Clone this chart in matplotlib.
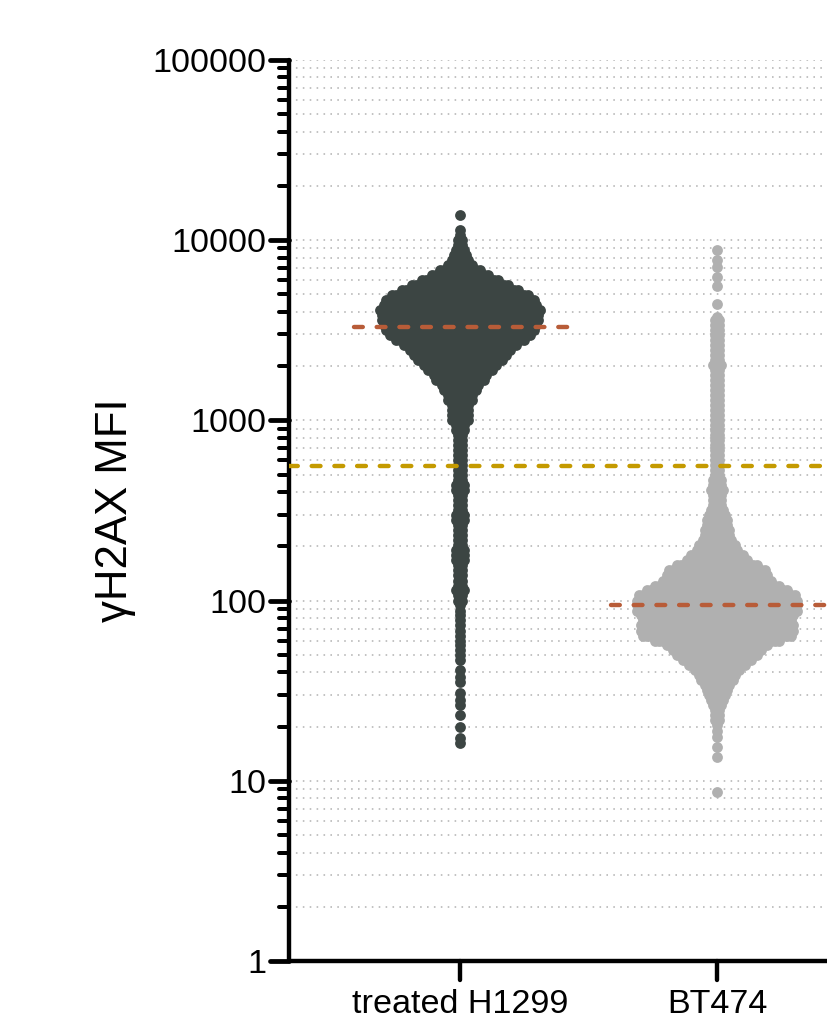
import matplotlib
matplotlib.use("Agg")
import matplotlib.pyplot as plt
from matplotlib.markers import MarkerStyle, TICKLEFT, TICKDOWN
from matplotlib.ticker import LogLocator, NullFormatter, FixedFormatter, FixedLocator
import numpy as np

plt.rcParams['font.family'] = ['Liberation Sans', 'DejaVu Sans']
plt.rcParams['lines.scale_dashes'] = False

categories = ["treated H1299", "BT474"]
y_ticks = [1, 10, 100, 1000, 10000, 100000]
y_tick_labels = ["1", "10", "100", "1000", "10000", "100000"]
threshold = 560
medians = [3300, 95]

h1299_mfi = [13800, 11400, 10690, 10030, 9410, 8830, 8280, 7770, 7290, 6840, 6410, 6020, 5640, 5290,
             4970, 4660, 4370, 4100, 3850, 3610, 3390, 3180, 2980, 2790, 2620, 2460, 2310, 2160,
             2030, 1900, 1790, 1670, 1570, 1470, 1380, 1300, 1220, 1140, 1070, 1000, 940, 880,
             825, 775, 727, 682, 640, 600, 563, 528, 495, 465, 436, 409, 384, 360, 338, 317, 297,
             279, 262, 245, 230, 216, 203, 190, 178, 167, 157, 147, 138, 129, 121, 114, 107, 100,
             94, 88, 83, 78, 73, 68, 64, 60, 57, 53, 50, 47, 41, 37.6, 35.4, 30.6, 28, 26.3, 23.2,
             19.9, 17.3, 16.2]
h1299_n = [1, 1, 1, 2, 2, 3, 4, 5, 7, 11, 15, 20, 25, 30,
           35, 38, 39, 41, 40, 40, 39, 38, 36, 33, 29, 26, 24, 22,
           19, 17, 14, 13, 10, 9, 7, 7, 5, 5, 5, 5, 3, 3,
           2, 2, 2, 2, 2, 2, 2, 2, 2, 2, 3, 3, 2, 2, 2, 2, 3,
           3, 2, 2, 2, 2, 2, 3, 3, 3, 2, 2, 2, 2, 2, 3, 2, 2,
           1, 1, 1, 1, 1, 1, 1, 1, 1, 1, 1, 1, 1, 1, 1, 1, 1, 1, 1,
           1, 1, 1]

bt474_mfi = [8830, 7770, 7140, 6210, 5540, 4440, 3750, 3610, 3390, 3180, 2980, 2790, 2620, 2460, 2310,
             2160, 2030, 1900, 1790, 1670, 1570, 1470, 1380, 1300, 1220, 1140, 1070, 1000, 940, 880,
             825, 775, 727, 682, 640, 600, 563, 528, 495, 465, 436, 409, 384, 360, 338, 317, 297,
             279, 262, 245, 230, 216, 203, 190, 178, 167, 157, 147, 138, 129, 121, 114, 107, 100,
             94, 88, 83, 78, 73, 68, 64, 60, 57, 53, 50, 46.9, 43.9, 41.2, 38.7, 36.3, 34, 31.9,
             29.9, 28, 26.3, 24.7, 23.2, 21.7, 20.4, 19, 17.5, 15.4, 13.6, 8.67]
bt474_n = [1, 1, 1, 1, 1, 1, 1, 2, 2, 2, 2, 2, 2, 2, 2,
           2, 3, 2, 2, 2, 2, 2, 2, 2, 2, 2, 2, 2, 2, 2,
           2, 2, 2, 2, 2, 2, 2, 2, 2, 3, 3, 4, 3, 3, 3, 4, 5,
           6, 6, 7, 7, 8, 10, 11, 14, 16, 21, 25, 26, 28, 32, 36, 40, 41,
           41, 41, 39, 38, 39, 39, 38, 32, 26, 23, 21, 18, 15, 12, 10, 9, 7, 6, 5,
           4, 3, 2, 2, 2, 1, 1, 1, 1, 1, 1]

DARK = "#3c4543"
GREY = "#b0b0b0"
RUST = "#b85c38"
GOLD = "#c49a00"
PX = 0.72  # points per pixel at 100 dpi
STEP = 4 / 257  # horizontal spacing of neighbouring dots, axis units

fig = plt.figure(figsize=(8.28, 10.22), dpi=100)
ax = fig.add_axes([289 / 828, 1 - 961 / 1022, 1 - 289 / 828, 901 / 1022])
ax.set_yscale("log")
ax.set_ylim(1, 100000)
ax.set_xlim((289 - 460) / 257, (828 - 460) / 257)


def swarm(center, mfi, counts, color):
    xs, ys = [], []
    for v, n in zip(mfi, counts):
        offs = (np.arange(n) - (n - 1) / 2) * STEP
        xs.extend(center + offs)
        ys.extend([v] * n)
    ax.scatter(xs, ys, s=(10.8 * PX) ** 2, color=color, linewidths=0, zorder=3)


swarm(0, h1299_mfi, h1299_n, DARK)
swarm(1, bt474_mfi, bt474_n, GREY)

# dashed reference lines
dash = dict(lw=4.4 * PX, dash_capstyle="round", linestyle=(0, (8.8 * PX, 13.9 * PX)), zorder=4)
ax.plot([-0.413, 0.42], [medians[0]] * 2, color=RUST, **dash)
ax.plot([0.587, 1.42], [medians[1]] * 2, color=RUST, **dash)
ax.axhline(threshold, color=GOLD, **dash)

# axes styling
for s in ("top", "right"):
    ax.spines[s].set_visible(False)
for s in ("left", "bottom"):
    ax.spines[s].set_linewidth(4.4 * PX)
    ax.spines[s].set_capstyle("round")
    ax.spines[s].set_color("black")

ax.yaxis.set_major_locator(FixedLocator(y_ticks))
ax.yaxis.set_major_formatter(FixedFormatter(y_tick_labels))
ax.yaxis.set_minor_locator(LogLocator(base=10, subs=range(2, 10), numticks=12))
ax.yaxis.set_minor_formatter(NullFormatter())
ax.set_xticks([0, 1])
ax.set_xticklabels(categories)

ax.tick_params(axis="y", which="major", length=19 * PX, width=4.8 * PX, labelsize=24.6, pad=3.5 * PX)
ax.tick_params(axis="y", which="minor", length=10.5 * PX, width=4 * PX)
ax.tick_params(axis="x", which="major", length=19 * PX, width=4.4 * PX, labelsize=24.6, pad=9 * PX)
for t in ax.yaxis.get_major_ticks() + ax.yaxis.get_minor_ticks():
    t.tick1line.set_marker(MarkerStyle(TICKLEFT, capstyle="round"))
for t in ax.xaxis.get_major_ticks():
    t.tick1line.set_marker(MarkerStyle(TICKDOWN, capstyle="round"))

ax.set_axisbelow(True)
for ticks in (ax.yaxis.get_major_ticks()[1:], ax.yaxis.get_minor_ticks()):
    for t in ticks:
        t.gridline.set_visible(True)
        t.gridline.set_color("#b5b5b5")
        t.gridline.set_linewidth(1.6 * PX)
        t.gridline.set_linestyle((0, (1.6 * PX, 5.3 * PX)))

ax.set_ylabel("γH2AX MFI", fontsize=31.5, labelpad=12)

fig.savefig("out.png", dpi=100)
